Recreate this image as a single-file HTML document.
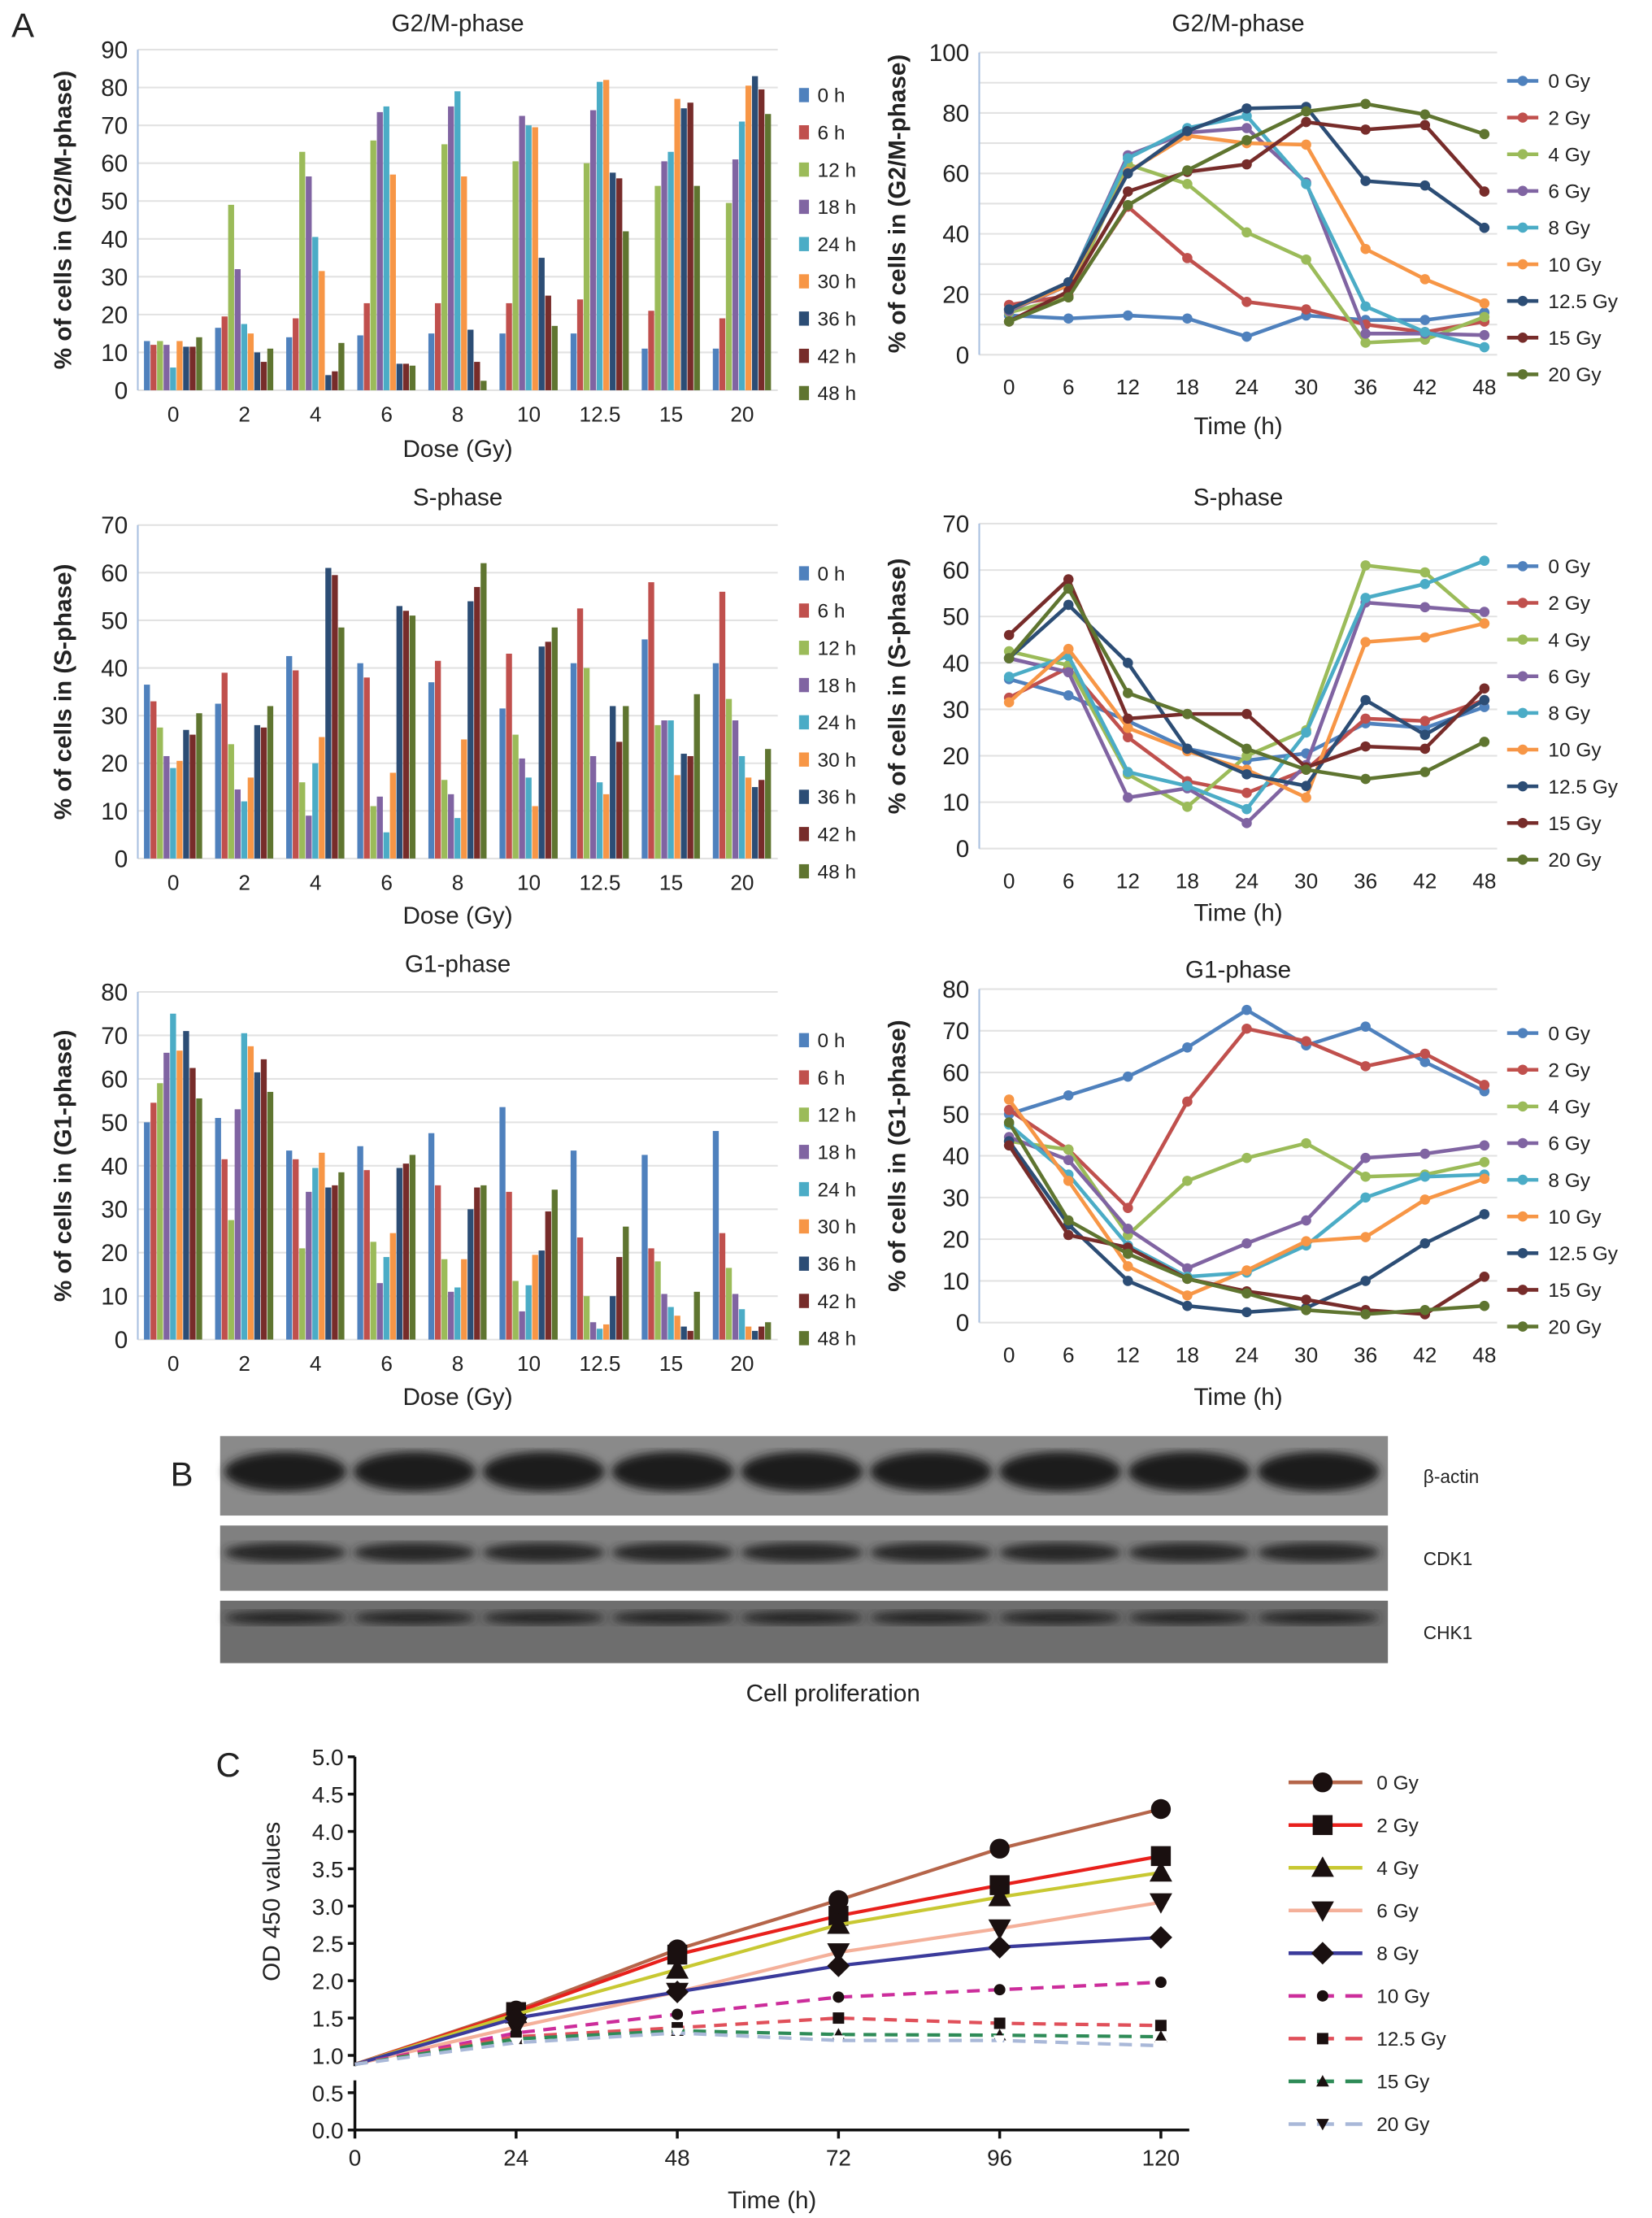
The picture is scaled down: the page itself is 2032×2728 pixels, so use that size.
<!DOCTYPE html>
<html><head><meta charset="utf-8"><style>
html,body{margin:0;padding:0;background:#fff}
svg{display:block}
text{font-family:"Liberation Sans",sans-serif;fill:#222}
</style></head><body>
<svg id="fig" width="2032" height="2728" viewBox="0 0 1164 1563" xmlns="http://www.w3.org/2000/svg">
<text x="8" y="26" font-size="24">A</text>
<text x="120" y="1047" font-size="24">B</text>
<text x="152" y="1252" font-size="24">C</text>
<g id="blot"></g>
<text x="587" y="1199" font-size="17" text-anchor="middle">Cell proliferation</text>
</svg>
<script>
// ---- data: rows = dose, columns = time ----
const doses = ["0","2","4","6","8","10","12.5","15","20"];
const times = ["0","6","12","18","24","30","36","42","48"];
const g2m = [
[13,12,13,12,6,13,11.5,11.5,14],
[16.5,19.5,49,32,17.5,15,10,7.5,11],
[14,19,63,56.5,40.5,31.5,4,5,12.5],
[14.5,23,66,73.5,75,57,7,7,6.5],
[15,23,65,75,79,56.5,16,7.5,2.5],
[15,23,60.5,72.5,70,69.5,35,25,17],
[15,24,60,74,81.5,82,57.5,56,42],
[11,21,54,60.5,63,77,74.5,76,54],
[11,19,49.5,61,71,80.5,83,79.5,73]];
const sph = [
[36.5,33,27.5,21.5,19,20.5,27,26,30.5],
[32.5,39,24,14.5,12,17,28,27.5,32],
[42.5,39.5,16,9,20,25.5,61,59.5,48.5],
[41,38,11,13,5.5,18,53,52,51],
[37,41.5,16.5,13.5,8.5,25,54,57,62],
[31.5,43,26,21,17,11,44.5,45.5,48.5],
[41,52.5,40,21.5,16,13.5,32,24.5,32],
[46,58,28,29,29,17.5,22,21.5,34.5],
[41,56,33.5,29,21.5,17,15,16.5,23]];
const g1 = [
[50,54.5,59,66,75,66.5,71,62.5,55.5],
[51,41.5,27.5,53,70.5,67.5,61.5,64.5,57],
[43.5,41.5,21,34,39.5,43,35,35.5,38.5],
[44.5,39,22.5,13,19,24.5,39.5,40.5,42.5],
[47.5,35.5,18.5,11,12,18.5,30,35,35.5],
[53.5,34,13.5,6.5,12.5,19.5,20.5,29.5,34.5],
[43.5,23.5,10,4,2.5,3.5,10,19,26],
[42.5,21,18,10.5,7.5,5.5,3,2,11],
[48,24.5,16.5,10.5,7,3,2,3,4]];
const odTimes = [0,24,48,72,96,120];
const odLabels = ["0 Gy","2 Gy","4 Gy","6 Gy","8 Gy","10 Gy","12.5 Gy","15 Gy","20 Gy"];
const od = [
[0.88,1.6,2.42,3.08,3.77,4.3],
[0.88,1.58,2.35,2.87,3.28,3.67],
[0.88,1.55,2.15,2.75,3.12,3.45],
[0.88,1.38,1.85,2.38,2.7,3.05],
[0.88,1.5,1.85,2.2,2.45,2.58],
[0.88,1.3,1.55,1.78,1.88,1.98],
[0.88,1.25,1.37,1.5,1.43,1.4],
[0.88,1.22,1.33,1.28,1.27,1.25],
[0.88,1.17,1.3,1.2,1.2,1.13]];

const pal = ["#4F81BD","#C0504D","#9BBB59","#8064A2","#4BACC6","#F79646","#2C4D75","#772C2A","#5F7530"];
const NS="http://www.w3.org/2000/svg";
const svg=document.getElementById('fig');
function el(tag,attrs,parent,txt){const e=document.createElementNS(NS,tag);for(const k in attrs)e.setAttribute(k,attrs[k]);if(txt!==undefined)e.textContent=txt;(parent||svg).appendChild(e);return e;}

function frame(g,o){
  const sy=v=>o.y0-(v/o.ymax)*(o.y0-o.ytop);
  const step=o.step||10;
  for(let v=0;v<=o.ymax;v+=10){
    const gl=el('line',{x1:o.xl,x2:o.xr,y1:sy(v),y2:sy(v),stroke:'#e2e2e2','stroke-width':1.2},g);
    
    
  }
  for(let v=0;v<=o.ymax;v+=step){
    const t=el('text',{x:o.xl-7,y:sy(v)+6,'font-size':17,'text-anchor':'end'},g,String(v));
    
    
  }
  el('line',{x1:o.xl,x2:o.xl,y1:o.ytop,y2:o.y0,stroke:'#a9c0e0','stroke-width':1.2},g);
  const tt=el('text',{x:(o.xl+o.xr)/2,y:o.titleY,'font-size':17,'text-anchor':'middle'},g,o.title);
  
  
  const xt=el('text',{x:(o.xl+o.xr)/2,y:o.xtitleY,'font-size':17,'text-anchor':'middle'},g,o.xtitle);
  
  
  const cy=(o.ytop+o.y0)/2;
  const yt=el('text',{x:o.ytX,y:cy,'font-size':17,'font-weight':'bold','text-anchor':'middle',transform:`rotate(-90 ${o.ytX} ${cy})`},g,o.ytitle);
  
  
  return sy;
}

function barChart(name,data,o){
  const g=el('g',{});
  
  
  const sy=frame(g,o);
  const gw=(o.xr-o.xl)/doses.length, bw=4.6;
  doses.forEach((d,i)=>{
    const cx=o.xl+gw*(i+0.5);
    data[i].forEach((v,j)=>{
      const r=el('rect',{x:cx-bw*4.5+j*bw,y:sy(v),width:bw-0.4,height:o.y0-sy(v),fill:pal[j]},g);
      
      
    });
    const t=el('text',{x:cx,y:o.y0+22,'font-size':15,'text-anchor':'middle'},g,d);
    
    
  });
  times.forEach((t,j)=>{
    const y=o.legY+j*26.25;
    const s=el('rect',{x:563,y:y-5,width:7,height:10,fill:pal[j]},g);
    
    
    const tx=el('text',{x:576,y:y+5,'font-size':14},g,t+' h');
    
    
  });
}

function lineChart(name,data,o){
  const g=el('g',{});
  
  
  const sy=frame(g,o);
  const x0=711,x48=1046;
  const sx=t=>x0+(t/48)*(x48-x0);
  times.forEach(t=>{
    const tx=el('text',{x:sx(+t),y:o.y0+28,'font-size':15,'text-anchor':'middle'},g,t);
    
    
  });
  doses.forEach((d,i)=>{
    const pts=data[i].map((v,j)=>sx(+times[j])+','+sy(v)).join(' ');
    const pl=el('polyline',{points:pts,fill:'none',stroke:pal[i],'stroke-width':2.6,'stroke-linejoin':'round'},g);
    
    
    data[i].forEach((v,j)=>{
      const c=el('circle',{cx:sx(+times[j]),cy:sy(v),r:3.6,fill:pal[i]},g);
      
      
    });
    const y=o.legY+i*25.85;
    el('line',{x1:1062,x2:1084,y1:y,y2:y,stroke:pal[i],'stroke-width':2.6},g);
    el('circle',{cx:1073,cy:y,r:3.6,fill:pal[i]},g);
    const tx=el('text',{x:1091,y:y+5,'font-size':14},g,d+' Gy');
    
    
  });
}

barChart('g2m-bar-chart',g2m,{xl:97,xr:548,ytop:35,y0:275,ymax:90,title:'G2/M-phase',titleY:22,xtitle:'Dose (Gy)',xtitleY:322,ytitle:'% of cells in (G2/M-phase)',ytX:50,legY:67});
lineChart('g2m-line-chart',g2m,{xl:690,xr:1055,ytop:37,y0:250,ymax:100,step:20,title:'G2/M-phase',titleY:22,xtitle:'Time (h)',xtitleY:306,ytitle:'% of cells in (G2/M-phase)',ytX:638,legY:57});
barChart('s-bar-chart',sph,{xl:97,xr:548,ytop:370,y0:605,ymax:70,title:'S-phase',titleY:356,xtitle:'Dose (Gy)',xtitleY:651,ytitle:'% of cells in (S-phase)',ytX:50,legY:404});
lineChart('s-line-chart',sph,{xl:690,xr:1055,ytop:369,y0:598,ymax:70,title:'S-phase',titleY:356,xtitle:'Time (h)',xtitleY:649,ytitle:'% of cells in (S-phase)',ytX:638,legY:399});
barChart('g1-bar-chart',g1,{xl:97,xr:548,ytop:699,y0:944,ymax:80,title:'G1-phase',titleY:685,xtitle:'Dose (Gy)',xtitleY:990,ytitle:'% of cells in (G1-phase)',ytX:50,legY:733});
lineChart('g1-line-chart',g1,{xl:690,xr:1055,ytop:697,y0:932,ymax:80,title:'G1-phase',titleY:689,xtitle:'Time (h)',xtitleY:990,ytitle:'% of cells in (G1-phase)',ytX:638,legY:728});

// ---- western blot ----
const blot=document.getElementById('blot');
const defs=el('defs',{},blot);
const f=el('filter',{id:'bl'},defs);el('feGaussianBlur',{stdDeviation:3},f);
const rows=[{y:1012,h:56,lab:'β-actin',by:1037,bh:14,c:'#1a1a1a',bg:'#8a8a8a'},
            {y:1075,h:46,lab:'CDK1',by:1094,bh:7,c:'#262626',bg:'#808080'},
            {y:1128,h:44,lab:'CHK1',by:1140,bh:5,c:'#282828',bg:'#6e6e6e'}];
rows.forEach(r=>{
  const rr=el('rect',{x:155,y:r.y,width:823,height:r.h,fill:r.bg},blot);
  
  
  for(let k=0;k<9;k++){
    el('ellipse',{cx:155+46+k*91,cy:r.by,rx:43,ry:r.bh,fill:r.c,filter:'url(#bl)'},blot);
  }
  const t=el('text',{x:1003,y:r.y+r.h/2+5,'font-size':13},blot,r.lab);
  
  
});

// ---- panel C ----
const gc=el('g',{});


const cy0=1501,cyPer=52.6, cx0=250, cxPer=(818-250)/120;
const sy=v=>cy0-v*cyPer, sx=t=>cx0+t*cxPer;
el('line',{x1:cx0,x2:cx0,y1:1238,y2:1456,stroke:'#111','stroke-width':2},gc);
el('line',{x1:cx0,x2:cx0,y1:1466,y2:cy0,stroke:'#111','stroke-width':2},gc);
el('line',{x1:cx0,x2:838,y1:cy0,y2:cy0,stroke:'#111','stroke-width':2},gc);
for(let v=0;v<=5.001;v+=0.5){
  el('line',{x1:cx0-5,x2:cx0,y1:sy(v),y2:sy(v),stroke:'#111','stroke-width':2},gc);
  const t=el('text',{x:cx0-8,y:sy(v)+6,'font-size':16,'text-anchor':'end'},gc,v.toFixed(1));
  
  
}
odTimes.forEach(t=>{
  el('line',{x1:sx(t),x2:sx(t),y1:cy0,y2:cy0+6,stroke:'#111','stroke-width':2},gc);
  const tx=el('text',{x:sx(t),y:cy0+25,'font-size':16,'text-anchor':'middle'},gc,String(t));
  
  
});
const xt=el('text',{x:544,y:1556,'font-size':17,'text-anchor':'middle'},gc,'Time (h)');


const yt=el('text',{x:197,y:1340,'font-size':17,'text-anchor':'middle',transform:'rotate(-90 197 1340)'},gc,'OD 450 values');


const ccol=["#B5654A","#E8201C","#C8C832","#F4B09A","#3B3B9B","#CC2D9B","#E0505A","#2E8B57","#A9B8D8"];
const dash=[null,null,null,null,null,'9,6','9,6','9,6','9,6'];
const mk=["circle","square","tri","itri","diamond","scircle","ssquare","stri","sitri"];
function marker(type,x,y,fill){
  const s={circle:7,square:7,tri:8,itri:8,diamond:8,scircle:4,ssquare:4,stri:4.5,sitri:4.5}[type];
  let e;
  if(type.endsWith('circle')) e=el('circle',{cx:x,cy:y,r:s,fill},gc);
  else if(type.endsWith('square')) e=el('rect',{x:x-s,y:y-s,width:2*s,height:2*s,fill},gc);
  else if(type==='diamond') e=el('polygon',{points:`${x},${y-s} ${x+s},${y} ${x},${y+s} ${x-s},${y}`,fill},gc);
  else if(type.endsWith('itri')) e=el('polygon',{points:`${x-s},${y-s*0.8} ${x+s},${y-s*0.8} ${x},${y+s}`,fill},gc);
  else e=el('polygon',{points:`${x-s},${y+s*0.8} ${x+s},${y+s*0.8} ${x},${y-s}`,fill},gc);
  return e;
}
od.forEach((row,i)=>{
  const pts=row.map((v,j)=>sx(odTimes[j])+','+sy(v)).join(' ');
  const a={points:pts,fill:'none',stroke:ccol[i],'stroke-width':2.4};
  if(dash[i])a['stroke-dasharray']=dash[i];
  const pl=el('polyline',a,gc);
  
  
  row.forEach((v,j)=>{
    if(j===0)return;
    const m=marker(mk[i],sx(odTimes[j]),sy(v),i===8?'#fff':'#1a1010');
    
    
  });
  const y=1256+i*30.1;
  const la={x1:908,x2:960,y1:y,y2:y,stroke:ccol[i],'stroke-width':2.6};
  if(dash[i])la['stroke-dasharray']='12,8';
  el('line',la,gc);
  marker(mk[i],932,y,'#1a1010');
  const tx=el('text',{x:970,y:y+5,'font-size':14},gc,odLabels[i]);
  
  
});
</script>
</body></html>
